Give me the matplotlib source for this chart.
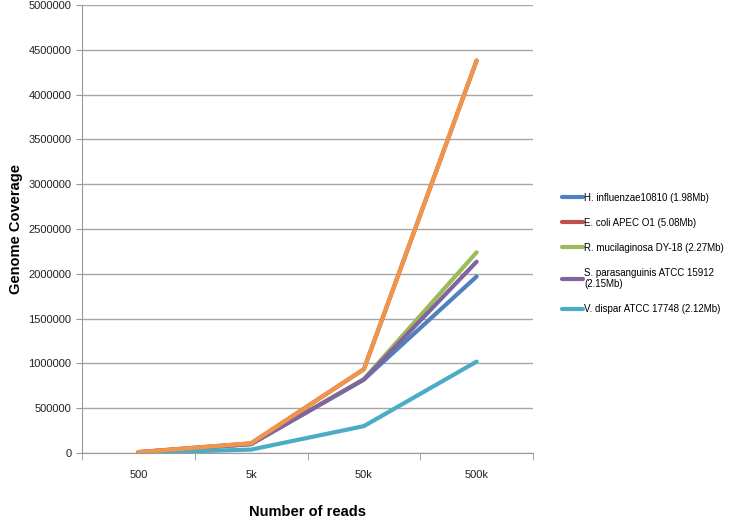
import numpy as np
import matplotlib.pyplot as plt
from matplotlib.ticker import FuncFormatter, FixedLocator

# Data
reads = ["500", "5k", "50k", "500k"]
h_influenzae = [8000, 100000, 820000, 1970000]
e_coli = [10000, 108000, 935000, 4380000]
r_mucilaginosa = [8000, 100000, 825000, 2240000]
s_parasanguinis = [8000, 100000, 820000, 2135000]
v_dispar = [2000, 38000, 300000, 1020000]
extra = [10000, 108000, 935000, 4380000]

labels = [
    "H. influenzae10810 (1.98Mb)",
    "E. coli APEC O1 (5.08Mb)",
    "R. mucilaginosa DY-18 (2.27Mb)",
    "S. parasanguinis ATCC 15912\n(2.15Mb)",
    "V. dispar ATCC 17748 (2.12Mb)",
]
colors = ["#4F81BD", "#C0504D", "#9BBB59", "#8064A2", "#4BACC6", "#F0954A"]

plt.rcParams['font.family'] = ['Liberation Sans', 'DejaVu Sans']

fig = plt.figure(figsize=(7.29, 5.28), dpi=100)
ax = fig.add_axes([82 / 729, 1 - 453 / 528, 451 / 729, 448 / 528])

x = np.arange(len(reads))
series = [h_influenzae, e_coli, r_mucilaginosa, s_parasanguinis, v_dispar]
handles = []
for vals, c, lab in zip(series, colors, labels):
    h, = ax.plot(x, vals, color=c, lw=3, solid_capstyle='round', label=lab)
    handles.append(h)
ax.plot(x, extra, color=colors[5], lw=3, solid_capstyle='round')

ax.set_xlim(-0.5, 3.5)
ax.set_ylim(0, 5000000)
ax.set_yticks(np.arange(0, 5000001, 500000))
ax.yaxis.set_major_formatter(FuncFormatter(lambda v, p: f"{int(v)}"))
ax.set_xticks(x)
ax.set_xticklabels(reads)
ax.xaxis.set_minor_locator(FixedLocator(np.arange(-0.5, 3.6, 1)))
ax.tick_params(axis='x', which='major', length=0, pad=12, labelsize=8, colors='#222222')
ax.tick_params(axis='x', which='minor', length=5, color='#999999')
ax.tick_params(axis='y', length=4, color='#999999', labelsize=8, colors='#222222')
ax.tick_params(axis='y', color='#999999')

ax.grid(axis='y', color='#a6a6a6', lw=1)
ax.set_axisbelow(True)
for s in ['top', 'right']:
    ax.spines[s].set_visible(False)
for s in ['left', 'bottom']:
    ax.spines[s].set_color('#999999')

ax.set_ylabel("Genome Coverage", fontsize=10.5, fontweight='bold', labelpad=4)
ax.set_xlabel("Number of reads", fontsize=10.5, fontweight='bold', labelpad=18)

leg = fig.legend(handles=handles, loc='upper left', bbox_to_anchor=(553 / 729, 1 - 184 / 528),
                 frameon=False, fontsize=7.0, handlelength=2.2, handletextpad=0.1,
                 labelspacing=1.55)
for t in leg.get_texts():
    t.set_linespacing(1.15)

fig.savefig("out.png", dpi=100)
plt.close()
